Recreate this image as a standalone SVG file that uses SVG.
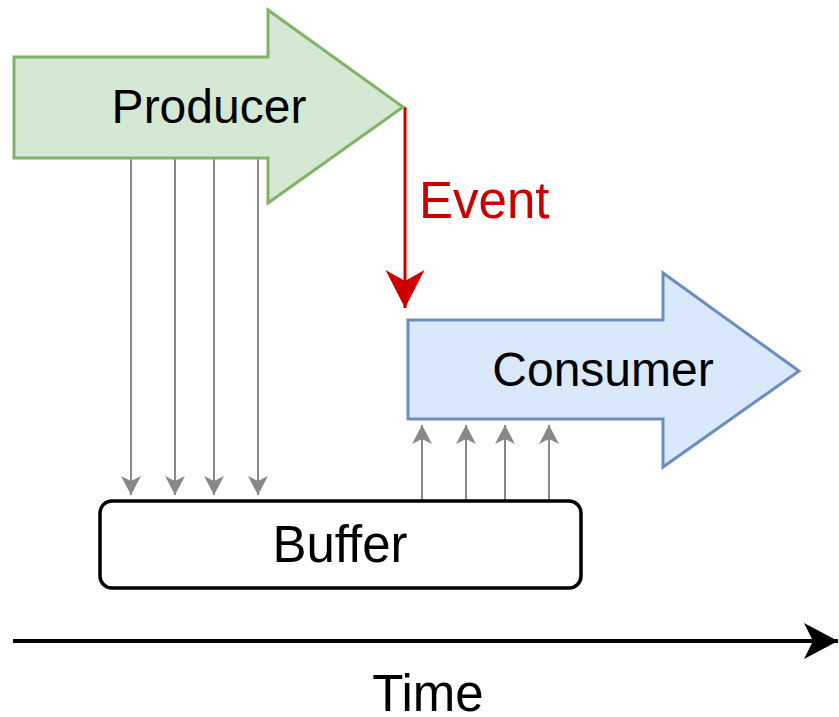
<svg xmlns="http://www.w3.org/2000/svg" width="839" height="717" viewBox="0 0 839 717">
<style>
.lbl{font-family:"Liberation Sans",Arial,sans-serif;font-size:48px;text-anchor:middle;fill:#000}
.big{font-size:51px}
.g{stroke:#888888;stroke-width:2;fill:none}
</style>
<defs>
<marker id="ag" markerUnits="userSpaceOnUse" viewBox="-20 -12 22 24" refX="0" refY="0" markerWidth="22" markerHeight="24" orient="auto">
<path d="M0,0 L-19,-10 L-14,0 L-19,10 Z" fill="#888888"/>
</marker>
<marker id="ar" markerUnits="userSpaceOnUse" viewBox="-40 -21 42 42" refX="0" refY="0" markerWidth="42" markerHeight="42" orient="auto">
<path d="M0,0 L-38,-19.5 L-27,0 L-38,19.5 Z" fill="#cc0000"/>
</marker>
<marker id="ak" markerUnits="userSpaceOnUse" viewBox="-36 -20 38 40" refX="0" refY="0" markerWidth="38" markerHeight="40" orient="auto">
<path d="M0,0 L-34,-18 L-25,0 L-34,18 Z" fill="#000"/>
</marker>
</defs>
<g id="connectors">
<path class="g" d="M131,158 V495" marker-end="url(#ag)"/>
<path class="g" d="M175,158 V495" marker-end="url(#ag)"/>
<path class="g" d="M214,158 V495" marker-end="url(#ag)"/>
<path class="g" d="M258,158 V495" marker-end="url(#ag)"/>
<path class="g" d="M422,500 V425" marker-end="url(#ag)"/>
<path class="g" d="M466,500 V425" marker-end="url(#ag)"/>
<path class="g" d="M505,500 V425" marker-end="url(#ag)"/>
<path class="g" d="M549,500 V425" marker-end="url(#ag)"/>
<path d="M405,107 V308" stroke="#cc0000" stroke-width="3" fill="none" marker-end="url(#ar)"/>
<text x="419" y="218" font-family="Liberation Sans, Arial, sans-serif" font-size="51" fill="#cc0000">Event</text>
</g>
<g id="producer">
<path d="M14,57 H268 V10 L403,107 L268,203 V158 H14 Z" fill="#d5e8d4" stroke="#82b366" stroke-width="3"/>
<text class="lbl" x="209" y="123">Producer</text>
</g>
<g id="consumer">
<path d="M408,320 H663 V273 L799,371 L663,467 V419 H408 Z" fill="#dae8fc" stroke="#6c8ebf" stroke-width="3"/>
<text class="lbl" x="603" y="386">Consumer</text>
</g>
<g id="buffer">
<rect x="100" y="501" width="481" height="87" rx="12" ry="12" fill="#fff" stroke="#000" stroke-width="3.5"/>
<text class="lbl big" x="340" y="562">Buffer</text>
</g>
<g id="time">
<path d="M13,641 H838" stroke="#000" stroke-width="4" fill="none" marker-end="url(#ak)"/>
<text class="lbl big" x="428" y="711">Time</text>
</g>
</svg>
